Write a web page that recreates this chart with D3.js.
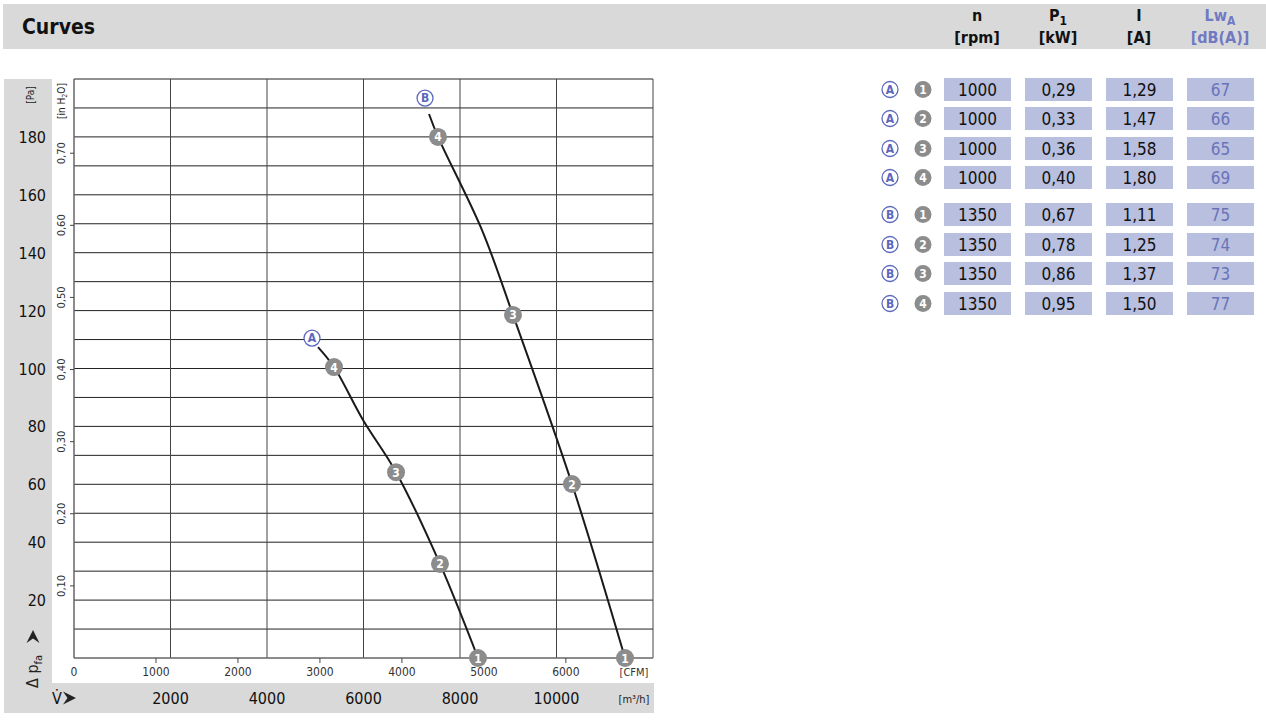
<!DOCTYPE html>
<html>
<head>
<meta charset="utf-8">
<script src="https://cdn.jsdelivr.net/npm/d3@7"></script>
<style>
  body { margin: 0; background: #fff; }
  svg text { font-family: "Liberation Sans Narrow", "DejaVu Sans Condensed", "Roboto", sans-serif; }
</style>
</head>
<body>
<svg id="chart" width="1266" height="726"></svg>
<script>
// curve points: [m3/h, Pa]
const curveA = [[5057, 107.4], [5389, 100.5], [5990, 82.2], [6674, 64.2], [7585, 32.5], [8373, 0]];
const curveB = [[7358, 187.9], [7544, 180.0], [8456, 147.8], [9098, 118.5], [10321, 60.1], [11420, 0]];
// numbered operating points on each curve
const pointsA = [{ n: 1, q: 8373, p: 0 }, { n: 2, q: 7585, p: 32.5 }, { n: 3, q: 6674, p: 64.2 }, { n: 4, q: 5389, p: 100.5 }];
const pointsB = [{ n: 1, q: 11420, p: 0 }, { n: 2, q: 10321, p: 60.1 }, { n: 3, q: 9098, p: 118.5 }, { n: 4, q: 7544, p: 180.0 }];
const labelA = { q: 4933, p: 110.5 };
const labelB = { q: 7275, p: 193.4 };

const paTicks = [20, 40, 60, 80, 100, 120, 140, 160, 180];
const inh2oTicks = [0.10, 0.20, 0.30, 0.40, 0.50, 0.60, 0.70];
const cfmTicks = [0, 1000, 2000, 3000, 4000, 5000, 6000];
const m3hTicks = [2000, 4000, 6000, 8000, 10000];

// table data
const tableCurve = ["A", "A", "A", "A", "B", "B", "B", "B"];
const tablePoint = [1, 2, 3, 4, 1, 2, 3, 4];
const tableN = ["1000", "1000", "1000", "1000", "1350", "1350", "1350", "1350"];
const tableP1 = ["0,29", "0,33", "0,36", "0,40", "0,67", "0,78", "0,86", "0,95"];
const tableI = ["1,29", "1,47", "1,58", "1,80", "1,11", "1,25", "1,37", "1,50"];
const tableLw = ["67", "66", "65", "69", "75", "74", "73", "77"];

const svg = d3.select("#chart");
const gray = "#d9d9d9";
const blue = "#5b68bd";

// background bands
svg.append("rect").attr("x", 3).attr("y", 4).attr("width", 1263).attr("height", 45).attr("fill", gray);
svg.append("rect").attr("x", 4).attr("y", 79).attr("width", 48).attr("height", 604).attr("fill", gray);
svg.append("rect").attr("x", 4).attr("y", 683).attr("width", 650).attr("height", 30).attr("fill", gray);

svg.append("text").attr("x", 22).attr("y", 34).attr("font-size", 21).attr("font-weight", "bold")
  .attr("fill", "#111").text("Curves");

// scales
const x = d3.scaleLinear().domain([0, 12000]).range([74, 653]);
const xCfm = d3.scaleLinear().domain([0, 12000 / 1.699]).range([74, 653]);
const y = d3.scaleLinear().domain([0, 200]).range([658, 79]);
const yIn = d3.scaleLinear().domain([0, 200 / 249.09]).range([658, 79]);

// grid
const grid = svg.append("g");
grid.selectAll("line.h").data(d3.range(10, 201, 10)).enter().append("line")
  .attr("x1", x(0)).attr("x2", x(12000))
  .attr("y1", d => y(d)).attr("y2", d => y(d))
  .attr("stroke", "#222").attr("stroke-width", 1);
grid.selectAll("line.v").data(d3.range(2000, 12001, 2000)).enter().append("line")
  .attr("x1", d => x(d)).attr("x2", d => x(d))
  .attr("y1", y(0)).attr("y2", y(200))
  .attr("stroke", "#444").attr("stroke-width", 1);
grid.append("line").attr("x1", x(0)).attr("x2", x(0)).attr("y1", y(0)).attr("y2", y(200))
  .attr("stroke", "#666").attr("stroke-width", 1.5);
grid.append("line").attr("x1", x(0)).attr("x2", x(12000)).attr("y1", y(0)).attr("y2", y(0))
  .attr("stroke", "#666").attr("stroke-width", 1.5);

// Pa labels
svg.selectAll("text.pa").data(paTicks).enter().append("text")
  .attr("x", 46).attr("y", d => y(d) + 6).attr("text-anchor", "end")
  .attr("font-size", 16).attr("fill", "#111").text(d => d);
svg.append("text").attr("transform", "translate(34,95) rotate(-90)").attr("text-anchor", "middle")
  .attr("font-size", 10).attr("fill", "#222").text("[Pa]");

// in H2O axis
svg.selectAll("line.in").data(inh2oTicks).enter().append("line")
  .attr("x1", 70).attr("x2", 74).attr("y1", d => yIn(d)).attr("y2", d => yIn(d))
  .attr("stroke", "#444");
svg.selectAll("text.in").data(inh2oTicks).enter().append("text")
  .attr("transform", d => "translate(65," + yIn(d) + ") rotate(-90)")
  .attr("text-anchor", "middle").attr("font-size", 11).attr("fill", "#333")
  .text(d => d.toFixed(2).replace(".", ","));
const inLab = svg.append("text").attr("transform", "translate(65,101) rotate(-90)")
  .attr("text-anchor", "middle").attr("font-size", 10).attr("fill", "#222");
inLab.append("tspan").text("[in H");
inLab.append("tspan").attr("font-size", 7).attr("dy", 2).text("2");
inLab.append("tspan").attr("dy", -2).text("O]");

// arrow shape used next to axis symbols
const arrowPath = "M0,0 L-13,-6.5 L-8.5,0 L-13,6.5 Z";

// delta p label
const dp = svg.append("text").attr("transform", "translate(38,688) rotate(-90)")
  .attr("font-size", 16).attr("fill", "#222");
dp.append("tspan").text("Δ p");
dp.append("tspan").attr("font-size", 11).attr("dy", 4).text("fa");
svg.append("path").attr("d", arrowPath)
  .attr("transform", "translate(33,630) rotate(-90)").attr("fill", "#222");

// CFM axis
svg.selectAll("line.cfm").data(cfmTicks.slice(1)).enter().append("line")
  .attr("x1", d => xCfm(d)).attr("x2", d => xCfm(d)).attr("y1", 658).attr("y2", 663)
  .attr("stroke", "#444");
svg.selectAll("text.cfm").data(cfmTicks).enter().append("text")
  .attr("x", d => xCfm(d)).attr("y", 676).attr("text-anchor", "middle")
  .attr("font-size", 12).attr("fill", "#333").text(d => d);
svg.append("text").attr("x", 634).attr("y", 676).attr("text-anchor", "middle")
  .attr("font-size", 11).attr("fill", "#333").text("[CFM]");

// m3/h axis
svg.selectAll("text.m3").data(m3hTicks).enter().append("text")
  .attr("x", d => x(d)).attr("y", 704).attr("text-anchor", "middle")
  .attr("font-size", 16).attr("fill", "#111").text(d => d);
svg.append("text").attr("x", 634).attr("y", 703).attr("text-anchor", "middle")
  .attr("font-size", 11).attr("fill", "#222").text("[m³/h]");
svg.append("text").attr("x", 57).attr("y", 704).attr("text-anchor", "middle")
  .attr("font-size", 16).attr("fill", "#111").text("V̇");
svg.append("path").attr("d", arrowPath)
  .attr("transform", "translate(76,698)").attr("fill", "#222");

// curves
const line = d3.line().x(d => x(d[0])).y(d => y(d[1])).curve(d3.curveCatmullRom);
[curveA, curveB].forEach(c => {
  svg.append("path").attr("d", line(c)).attr("fill", "none")
    .attr("stroke", "#1a1a1a").attr("stroke-width", 2);
});

function numMarker(g, cx, cy, n, r) {
  g.append("circle").attr("cx", cx).attr("cy", cy).attr("r", r).attr("fill", "#8c8c8c");
  g.append("text").attr("x", cx).attr("y", cy + 4.5).attr("text-anchor", "middle")
    .attr("font-size", 12).attr("font-weight", "bold").attr("fill", "#fff").text(n);
}
function letterMarker(g, cx, cy, l, r) {
  g.append("circle").attr("cx", cx).attr("cy", cy).attr("r", r).attr("fill", "#fff")
    .attr("stroke", blue).attr("stroke-width", 1.3);
  g.append("text").attr("x", cx).attr("y", cy + 4.3).attr("text-anchor", "middle")
    .attr("font-size", 12).attr("font-weight", "bold").attr("fill", blue).text(l);
}

const marks = svg.append("g");
pointsA.concat(pointsB).forEach(d => numMarker(marks, x(d.q), y(d.p), d.n, 9));
letterMarker(marks, x(labelA.q), y(labelA.p), "A", 8);
letterMarker(marks, x(labelB.q), y(labelB.p), "B", 8);

// table header
const colX = [977, 1058, 1139, 1220];
const head1 = ["n", "P", "I", "Lw"];
const head1Sub = ["", "1", "", "A"];
const head2 = ["[rpm]", "[kW]", "[A]", "[dB(A)]"];
head1.forEach((h, i) => {
  const col = i === 3 ? "#7079c2" : "#111";
  const t = svg.append("text").attr("x", colX[i]).attr("y", 21).attr("text-anchor", "middle")
    .attr("font-size", 16).attr("font-weight", "bold").attr("fill", col);
  t.append("tspan").text(h);
  if (head1Sub[i]) t.append("tspan").attr("font-size", 12).attr("dy", 4).text(head1Sub[i]);
  svg.append("text").attr("x", colX[i]).attr("y", 43).attr("text-anchor", "middle")
    .attr("font-size", 16).attr("font-weight", "bold").attr("fill", col).text(head2[i]);
});

// table rows
const rowTop = [78, 107, 137, 166, 203, 233, 262, 292];
const cellX = [944, 1025, 1106, 1187];
const cols = [tableN, tableP1, tableI, tableLw];
const table = svg.append("g");
rowTop.forEach((top, r) => {
  const cy = top + 11.5;
  letterMarker(table, 890, cy, tableCurve[r], 8);
  numMarker(table, 923, cy, tablePoint[r], 8.5);
  cols.forEach((vals, c) => {
    table.append("rect").attr("x", cellX[c]).attr("y", top).attr("width", 67).attr("height", 23)
      .attr("fill", "#b8bfdf");
    table.append("text").attr("x", cellX[c] + 33.5).attr("y", cy + 6).attr("text-anchor", "middle")
      .attr("font-size", 17).attr("fill", c === 3 ? "#6a73b8" : "#111").text(vals[r]);
  });
});
</script>
</body>
</html>
